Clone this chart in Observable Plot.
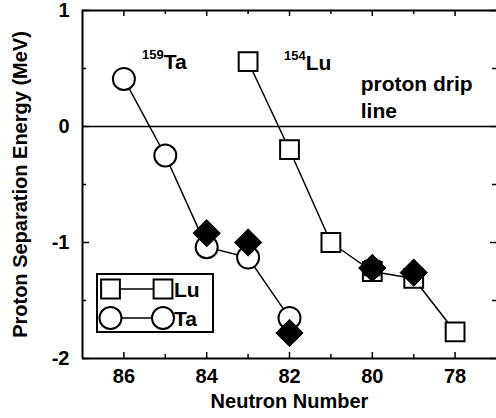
<!DOCTYPE html>
<html>
<head>
<meta charset="utf-8">
<script src="https://cdn.jsdelivr.net/npm/d3@7"></script>
<script src="https://cdn.jsdelivr.net/npm/@observablehq/plot@0.6"></script>
<style>
  html, body { margin: 0; padding: 0; background: #fff; }
  #chart { position: relative; width: 496px; height: 418px; }
</style>
</head>
<body>
<div id="chart"></div>
<script>
// ---- data ----
const taN = [86, 85, 84, 83, 82];
const taE = [0.41, -0.25, -1.04, -1.13, -1.65];
const luN = [83, 82, 81, 80, 79, 78];
const luE = [0.56, -0.20, -1.00, -1.25, -1.31, -1.77];
const expN = [84, 83, 82, 80, 79];
const expE = [-0.92, -1.00, -1.78, -1.22, -1.26];
const expSqN = [80];
const expSqE = [-1.22];
const xDomain = [87, 77];
const yDomain = [-2, 1];
const xMajor = [86, 84, 82, 80, 78];
const xMinor = [85, 83, 81, 79];
const yMajor = [-2, -1, 0, 1];
const yMinor = [-1.5, -0.5, 0.5];
const isoMass = ["159", "154"];
const isoName = ["Ta", "Lu"];
const isoN = [85.04, 81.61];
const isoE = [0.50, 0.483];
const noteText = ["proton drip\nline"];
const noteN = [80.28];
const noteE = [0.069];
const legendLabels = ["Lu", "Ta"];

const ta = taN.map((n, i) => ({n, e: taE[i]}));
const lu = luN.map((n, i) => ({n, e: luE[i]}));
const ex = expN.map((n, i) => ({n, e: expE[i]}));
const exSq = expSqN.map((n, i) => ({n, e: expSqE[i]}));
const iso = isoN.map((n, i) => ({n, e: isoE[i], mass: isoMass[i], name: isoName[i]}));
const notes = noteN.map((n, i) => ({n, e: noteE[i], text: noteText[i]}));

const W = 496, H = 418, mL = 82, mR = 0, mT = 10, mB = 60;
const fw = W - mL - mR, fh = H - mT - mB;
const font = "'Liberation Sans', Arial, Helvetica, sans-serif";

const svg = Plot.plot({
  width: W, height: H,
  marginLeft: mL, marginRight: mR, marginTop: mT, marginBottom: mB,
  style: {fontFamily: font, fontWeight: "bold", fontSize: "20px", color: "#000", background: "#fff", overflow: "visible"},
  x: {domain: xDomain},
  y: {domain: yDomain},
  marks: [
    // frame (left, top, bottom)
    Plot.ruleX([xDomain[0]], {strokeWidth: 2}),
    Plot.ruleY([yDomain[0]], {strokeWidth: 2}),
    Plot.ruleY([yDomain[1]], {strokeWidth: 2}),
    // inward ticks
    Plot.ruleX(xMajor, {insetTop: fh - 6, strokeWidth: 1.5}),
    Plot.ruleX(xMinor, {insetTop: fh - 4, strokeWidth: 1.5}),
    Plot.ruleX(xMajor, {insetBottom: fh - 6, strokeWidth: 1.5}),
    Plot.ruleX(xMinor, {insetBottom: fh - 4, strokeWidth: 1.5}),
    Plot.ruleY(yMajor, {insetRight: fw - 7, strokeWidth: 1.5}),
    Plot.ruleY(yMinor, {insetRight: fw - 4, strokeWidth: 1.5}),
    Plot.ruleY(yMajor, {insetLeft: fw - 6, strokeWidth: 1.5}),
    Plot.ruleY(yMinor, {insetLeft: fw - 4, strokeWidth: 1.5}),
    // tick labels
    Plot.axisX(xMajor, {tickSize: 0, tickPadding: 10, label: null, fontSize: 20, fontWeight: "bold"}),
    Plot.axisY(yMajor, {tickSize: 0, tickPadding: 13, label: null, fontSize: 20, fontWeight: "bold", tickFormat: d => String(d)}),
    // axis titles
    Plot.text(["Neutron Number"], {frameAnchor: "bottom", dy: 49, fontSize: 20, fontWeight: "bold", lineAnchor: "bottom", textAnchor: "middle"}),
    Plot.text(["Proton Separation Energy (MeV)"], {frameAnchor: "left", dx: -62, rotate: -90, fontSize: 20, fontWeight: "bold", textAnchor: "middle"}),
    // zero line
    Plot.ruleY([0], {strokeWidth: 1.5}),
    // series lines
    Plot.line(ta, {x: "n", y: "e", strokeWidth: 1.5}),
    Plot.line(lu, {x: "n", y: "e", strokeWidth: 1.5}),
    // open markers
    Plot.dot(ta, {x: "n", y: "e", symbol: "circle", r: 11, fill: "#fff", stroke: "#000", strokeWidth: 2}),
    Plot.dot(lu, {x: "n", y: "e", symbol: "square", r: 10.6, fill: "#fff", stroke: "#000", strokeWidth: 2}),
    // filled experimental markers
    Plot.dot(ex, {x: "n", y: "e", symbol: "diamond2", r: 12.3, fill: "#000", stroke: "#000", strokeWidth: 1}),
    Plot.dot(exSq, {x: "n", y: "e", symbol: "square", r: 8.8, fill: "#000", stroke: "#000", strokeWidth: 1}),
    // isotope labels
    Plot.text(iso, {x: "n", y: "e", text: "mass", textAnchor: "end", lineAnchor: "bottom", dy: -10, fontSize: 13, fontWeight: "bold"}),
    Plot.text(iso, {x: "n", y: "e", text: "name", textAnchor: "start", lineAnchor: "bottom", fontSize: 21, fontWeight: "bold"}),
    Plot.text(notes, {x: "n", y: "e", text: "text", textAnchor: "start", lineAnchor: "bottom", lineHeight: 1.3, fontSize: 21, fontWeight: "bold"})
  ]
});

// legend drawn into the same svg
const g = d3.select(svg).append("g").attr("font-family", font).attr("font-weight", "bold").attr("text-anchor", "start");
g.append("rect").attr("x", 97).attr("y", 274).attr("width", 116).attr("height", 58)
  .attr("fill", "#fff").attr("stroke", "#000").attr("stroke-width", 2);
const rows = [{y: 289, sym: d3.symbolSquare, size: (10.6 * 10.6) * Math.PI}, {y: 318, sym: d3.symbolCircle, size: 11 * 11 * Math.PI}];
rows.forEach((r, i) => {
  g.append("line").attr("x1", 110.5).attr("x2", 163).attr("y1", r.y).attr("y2", r.y)
    .attr("stroke", "#000").attr("stroke-width", 1.5);
  [110.5, 163].forEach(cx => {
    g.append("path").attr("d", d3.symbol(r.sym, r.size)()).attr("transform", `translate(${cx},${r.y})`)
      .attr("fill", "#fff").attr("stroke", "#000").attr("stroke-width", 2);
  });
  g.append("text").attr("x", 174).attr("y", r.y + 8).attr("font-size", 21).attr("text-anchor", "start").text(legendLabels[i]);
});

document.getElementById("chart").appendChild(svg);
</script>
</body>
</html>
